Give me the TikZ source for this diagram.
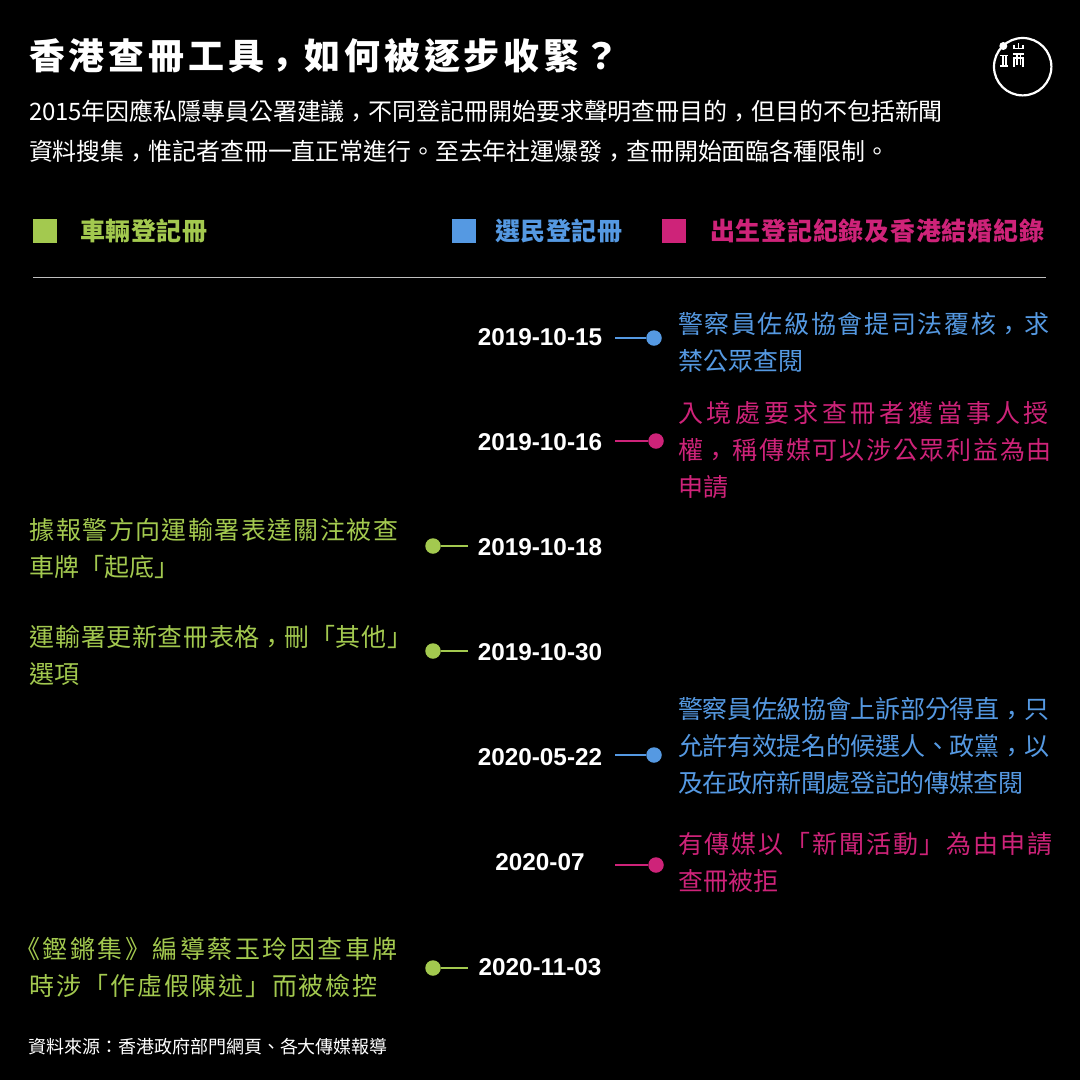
\documentclass[tikz,border=0pt]{standalone}
\usepackage{fontspec}
\setmainfont{Noto Sans CJK TC}
\newfontfamily\datefont{Liberation Sans}[Scale=1]
\definecolor{gr}{HTML}{A3C94F}
\definecolor{bl}{HTML}{5599E2}
\definecolor{mg}{HTML}{CE2379}
\newcommand\spc[2]{{\addfontfeature{LetterSpace=#1}#2}}
\newcommand\fc{\raisebox{-0.24em}{\char"FF0C\relax}}
\newcommand\qm{\char"FF1F\relax}
\newcommand\cl{\char"FF1A\relax}
\tikzset{
 x=1pt,y=-1pt,
 txt/.style={anchor=base west,inner sep=0,outer sep=0,font=\fontsize{25}{25}\selectfont},
 head/.style={txt,font=\fontsize{24}{24}\selectfont},
 date/.style={anchor=center,inner sep=0,text=white,font=\datefont\bfseries\fontsize{24.3}{25}\selectfont},
 dotn/.style={circle,inner sep=0,minimum size=15.5pt},
 link/.style={line width=2pt},
 swatch/.style={inner sep=0,minimum size=24pt,anchor=north west},
 legend/.style={txt,font=\bfseries\fontsize{25}{25}\selectfont},
 logo/.style={white,line width=1.8pt},
}
\begin{document}
\begin{tikzpicture}
\fill[black] (0,0) rectangle (1080,1080);
\useasboundingbox (0,0) rectangle (1080,1080);
% title
\node[txt,text=white,font=\bfseries\fontsize{36}{36}\selectfont] (title) at (29,69) {\spc{10.8}{香港查冊工具\fc\kern3.9pt 如何被逐步收緊\qm}};
\node[head,text=white] (h1) at (29,120.5) {\spc{-0.4}{2015年因應私隱專員公署建議\fc 不同登記冊開始要求聲明查冊目的\fc 但目的不包括新聞}};
\node[head,text=white] (h2) at (29,160.5) {\spc{-0.5}{資料搜集\fc 惟記者查冊一直正常進行。至去年社運爆發\fc 查冊開始面臨各種限制。}};
% logo
\draw[white,line width=2.2pt] (1022.7,66.7) circle (28.7);
\fill[white] (1003.3,46) circle (4);
\draw[logo] (1013.7,44.5)--(1013.7,48.5)--(1023.3,48.5)--(1023.3,44.5) (1018.5,43.3)--(1018.5,48.5);
\draw[logo] (1000,55.5)--(1008.3,55.5) (1000,66)--(1008.3,66) (1002.7,55.5)--(1002.7,66) (1005.6,55.5)--(1005.6,66);
\draw[logo] (1013.3,54.3)--(1024,54.3) (1014,66.7)--(1014,58)--(1023.3,58)--(1023.3,66.7) (1017.2,54.3)--(1017.2,65) (1020.4,54.3)--(1020.4,65);
% legend
\node[swatch,fill=gr] (s1) at (33,218.5) {};
\node[legend,text=gr] (l1) at (80,240) {\spc{2}{車輛登記冊}};
\node[swatch,fill=bl] (s2) at (452,218.5) {};
\node[legend,text=bl] (l2) at (495,240) {\spc{2}{選民登記冊}};
\node[swatch,fill=mg] (s3) at (662,218.5) {};
\node[legend,text=mg] (l3) at (710,240) {\spc{3}{出生登記紀錄及香港結婚紀錄}};
\draw[white!75!black,line width=1.5pt] (33,277.5)--(1046,277.5);
% dates
\node[date] (d1) at (540,337.5) {2019-10-15};
\node[date] (d2) at (540,442.5) {2019-10-16};
\node[date] (d3) at (540,547.5) {2019-10-18};
\node[date] (d4) at (540,652.5) {2019-10-30};
\node[date] (d5) at (540,757.5) {2020-05-22};
\node[date] (d6) at (540,862.5) {2020-07};
\node[date] (d7) at (540,967.5) {2020-11-03};
% dots and links
\node[dotn,fill=bl] (p1) at (654,338) {}; \coordinate (c1) at (615,338); \draw[link,bl] (c1)--(p1);
\node[dotn,fill=mg] (p2) at (656,441) {}; \coordinate (c2) at (615,441); \draw[link,mg] (c2)--(p2);
\node[dotn,fill=gr] (p3) at (433,546) {}; \coordinate (c3) at (468,546); \draw[link,gr] (c3)--(p3);
\node[dotn,fill=gr] (p4) at (433,651) {}; \coordinate (c4) at (468,651); \draw[link,gr] (c4)--(p4);
\node[dotn,fill=bl] (p5) at (654,755) {}; \coordinate (c5) at (615,755); \draw[link,bl] (c5)--(p5);
\node[dotn,fill=mg] (p6) at (656,865) {}; \coordinate (c6) at (615,865); \draw[link,mg] (c6)--(p6);
\node[dotn,fill=gr] (p7) at (433,968) {}; \coordinate (c7) at (468,968); \draw[link,gr] (c7)--(p7);
% right texts
\node[txt,text=bl] (t1a) at (678,333.5) {\spc{6.6}{警察員佐級協會提司法覆核\fc\kern3pt 求}};
\node[txt,text=bl] (t1b) at (678,370.5) {禁公眾查閱};
\node[txt,text=mg] (t2a) at (678,422.5) {\spc{15.3}{入境處要求查冊者獲當事人授}};
\node[txt,text=mg] (t2b) at (678,459.5) {\spc{7}{權\fc\kern4.5pt 稱傳媒可以涉公眾利益為由}};
\node[txt,text=mg] (t2c) at (678,496.5) {申請};
\node[txt,text=bl] (t5a) at (678,718.5) {\spc{-1.2}{警察員佐級協會上訴部分得直\fc 只}};
\node[txt,text=bl] (t5b) at (678,755.5) {\spc{-1.2}{允許有效提名的候選人、政黨\fc 以}};
\node[txt,text=bl] (t5c) at (678,792.5) {\spc{-1.4}{及在政府新聞處登記的傳媒查閱}};
\node[txt,text=mg] (t6a) at (678,853.5) {\spc{7.5}{有傳媒以「新聞活動」為由申請}};
\node[txt,text=mg] (t6b) at (678,890.5) {查冊被拒};
% left texts
\node[txt,text=gr] (t3a) at (30,539.5) {\spc{5.6}{據報警方向運輸署表達關注被查}};
\node[txt,text=gr] (t3b) at (30,576.5) {車牌「起底」};
\node[txt,text=gr] (t4a) at (30,646.5) {\spc{2.4}{運輸署更新查冊表格\fc 刪「其他」}};
\node[txt,text=gr] (t4b) at (30,683.5) {選項};
\node[txt,text=gr] (t7a) at (15.5,958.5) {\spc{10}{《鏗鏘集》編導蔡玉玲因查車牌}};
\node[txt,text=gr] (t7b) at (30,995.5) {\spc{7.6}{時涉「作虛假陳述」而被檢控}};
% source
\node[txt,text=white,font=\fontsize{18}{18}\selectfont] (src) at (28,1053) {資料來源\cl 香港政府部門網頁、各大傳媒報導};
\end{tikzpicture}
\end{document}
